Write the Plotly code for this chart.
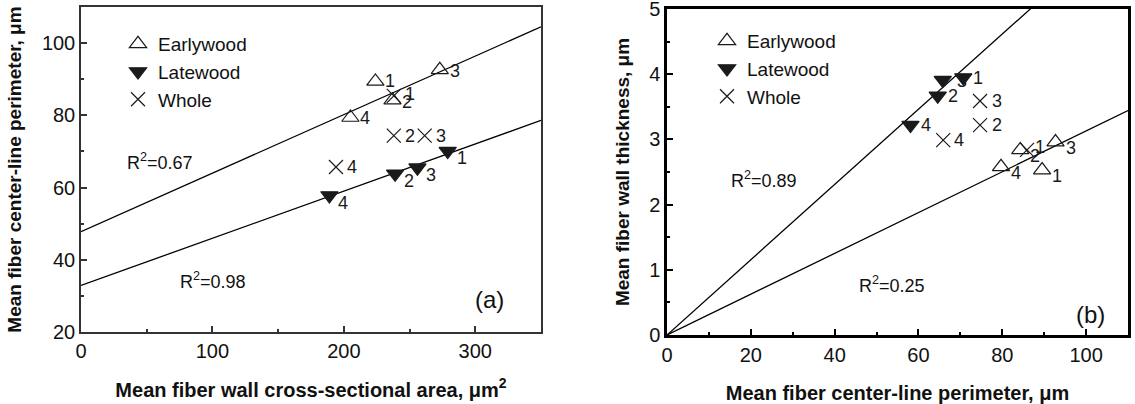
import plotly.graph_objects as go

# ---------------- data ----------------
point_labels = ["1", "2", "3", "4"]

# Panel (a): wall cross-sectional area (um^2) vs center-line perimeter (um)
area_early = [224, 237, 273, 205]
perim_early = [89.4, 84.2, 92.6, 79.4]
area_late = [279, 239, 256, 189]
perim_late = [70.1, 63.8, 65.5, 57.8]
area_whole = [238, 238, 261.5, 194]
perim_whole = [85.4, 74.4, 74.4, 65.7]

# Panel (b): center-line perimeter (um) vs wall thickness (um)
perimb_early = [89.5, 84.3, 92.7, 79.7]
thick_early = [2.53, 2.84, 2.96, 2.58]
perimb_late = [70.7, 64.6, 65.8, 58.1]
thick_late = [3.95, 3.67, 3.91, 3.22]
perimb_whole = [85.9, 74.7, 74.7, 65.9]
thick_whole = [2.84, 3.22, 3.59, 2.99]

# regression lines (intercept, slope)
fit_a_intercept = [47.8, 32.9]
fit_a_slope = [0.162, 0.1306]
fit_a_r2 = ["0.67", "0.98"]
fit_b_intercept = [0.0, 0.0]
fit_b_slope = [0.0577, 0.0313]
fit_b_r2 = ["0.89", "0.25"]

xa_range = [0, 350]
ya_range = [20, 110]
xb_range = [0, 110]
yb_range = [0, 5.001]

FONT = "Arial, Liberation Sans, sans-serif"
MC = "#1a1a1a"
W, H = 1135, 404

fig = go.Figure()

# regression lines
for b0, b1 in zip(fit_a_intercept, fit_a_slope):
    xs = list(xa_range)
    fig.add_trace(go.Scatter(x=xs, y=[b0 + b1 * v for v in xs], mode="lines",
                             line=dict(color="black", width=1.3), showlegend=False,
                             xaxis="x", yaxis="y", hoverinfo="skip"))
for b0, b1 in zip(fit_b_intercept, fit_b_slope):
    xs = list(xb_range)
    fig.add_trace(go.Scatter(x=xs, y=[b0 + b1 * v for v in xs], mode="lines",
                             line=dict(color="black", width=1.3), showlegend=False,
                             xaxis="x2", yaxis="y2", hoverinfo="skip"))

lab_font = dict(family=FONT, size=18, color=MC)


def series(x, y, name, symbol, size, xa, ya, legend, dx, dy):
    marker = dict(symbol=symbol, size=size, color=MC, line=dict(color=MC, width=1.2))
    fig.add_trace(go.Scatter(x=x, y=y, name=name, mode="markers", marker=marker,
                             xaxis=xa, yaxis=ya, legend=legend, cliponaxis=False))
    for xi, yi, lab, sx, sy in zip(x, y, point_labels, dx, dy):
        fig.add_annotation(x=xi, y=yi, xref=xa, yref=ya, text=lab, showarrow=False,
                           font=lab_font, xshift=sx, yshift=-sy)


# panel a
series(area_early, perim_early, "Earlywood", "triangle-up-open", 15, "x", "y", "legend",
       [15] * 4, [0, 2, 1, 0])
series(area_late, perim_late, "Latewood", "triangle-down", 15, "x", "y", "legend",
       [14] * 4, [7] * 4)
series(area_whole, perim_whole, "Whole", "x-thin-open", 14, "x", "y", "legend",
       [16] * 4, [-2, 0, 0, 0])
# panel b
series(perimb_early, thick_early, "Earlywood", "triangle-up-open", 15, "x2", "y2", "legend2",
       [15] * 4, [6] * 4)
series(perimb_late, thick_late, "Latewood", "triangle-down", 15, "x2", "y2", "legend2",
       [15, 15, 19, 16], [0, 0, 1, 0])
series(perimb_whole, thick_whole, "Whole", "x-thin-open", 14, "x2", "y2", "legend2",
       [13, 17, 17, 16], [-3, 0, 0, 0])

tick_font = dict(family=FONT, size=20, color="#111")


def axis(rng, dtick, minor, lw, lc, title, tsize, standoff, domain, anchor):
    return dict(range=rng, dtick=dtick, tick0=0, showgrid=False, zeroline=False,
                showline=True, linecolor=lc, linewidth=lw, mirror=True,
                ticks="inside", ticklen=6, tickwidth=1.5, tickcolor=lc,
                minor=dict(ticks="inside", dtick=minor, ticklen=3, tickwidth=1.5, tickcolor=lc),
                tickfont=tick_font,
                title=dict(text=title, font=dict(family=FONT, size=tsize, color="#111", weight="bold"),
                           standoff=standoff),
                domain=domain, anchor=anchor, automargin=False, ticklabeloverflow="allow")


fig.update_layout(
    width=W, height=H,
    margin=dict(l=0, r=0, t=0, b=0, autoexpand=False),
    paper_bgcolor="white", plot_bgcolor="white",
    font=dict(family=FONT),
    xaxis=axis(xa_range, 100, 50, 1.5, "#333", "Mean fiber wall cross-sectional area, \u03bcm<sup>2</sup>",
               20, 22, [81 / W, 541 / W], "y"),
    yaxis=axis(ya_range, 20, 10, 1.5, "#333", "Mean fiber center-line perimeter, \u03bcm",
               19, 15, [72 / H, 397 / H], "x"),
    xaxis2=axis(xb_range, 20, 10, 2.5, "black", "Mean fiber center-line perimeter, \u03bcm",
                20, 22, [667 / W, 1128 / W], "y2"),
    yaxis2=axis(yb_range, 1, 0.5, 2.5, "black", "Mean fiber wall thickness, \u03bcm",
                19, 15, [69 / H, 395 / H], "x2"),
    legend=dict(x=118 / W, y=(H - 25) / H, xanchor="left", yanchor="top",
                bgcolor="rgba(0,0,0,0)", font=dict(family=FONT, size=19, color="#111"),
                itemclick=False),
    legend2=dict(x=707 / W, y=(H - 22) / H, xanchor="left", yanchor="top",
                 bgcolor="rgba(0,0,0,0)", font=dict(family=FONT, size=19, color="#111"),
                 itemclick=False),
)

ann_font = dict(family=FONT, size=18, color="#111")
fig.add_annotation(x=60, y=67.2, xref="x", yref="y", text="R<sup>2</sup>=" + fit_a_r2[0],
                   showarrow=False, font=ann_font)
fig.add_annotation(x=100.5, y=34.4, xref="x", yref="y", text="R<sup>2</sup>=" + fit_a_r2[1],
                   showarrow=False, font=ann_font)
fig.add_annotation(x=311, y=28.9, xref="x", yref="y", text="(a)",
                   showarrow=False, font=dict(family=FONT, size=24, color="#111"))
fig.add_annotation(x=23.1, y=2.38, xref="x2", yref="y2", text="R<sup>2</sup>=" + fit_b_r2[0],
                   showarrow=False, font=ann_font)
fig.add_annotation(x=53.8, y=0.77, xref="x2", yref="y2", text="R<sup>2</sup>=" + fit_b_r2[1],
                   showarrow=False, font=ann_font)
fig.add_annotation(x=101, y=0.32, xref="x2", yref="y2", text="(b)",
                   showarrow=False, font=dict(family=FONT, size=24, color="#111"))

fig.write_html("out.html", config={"displayModeBar": False},
               post_script="document.body.style.margin='0';")
